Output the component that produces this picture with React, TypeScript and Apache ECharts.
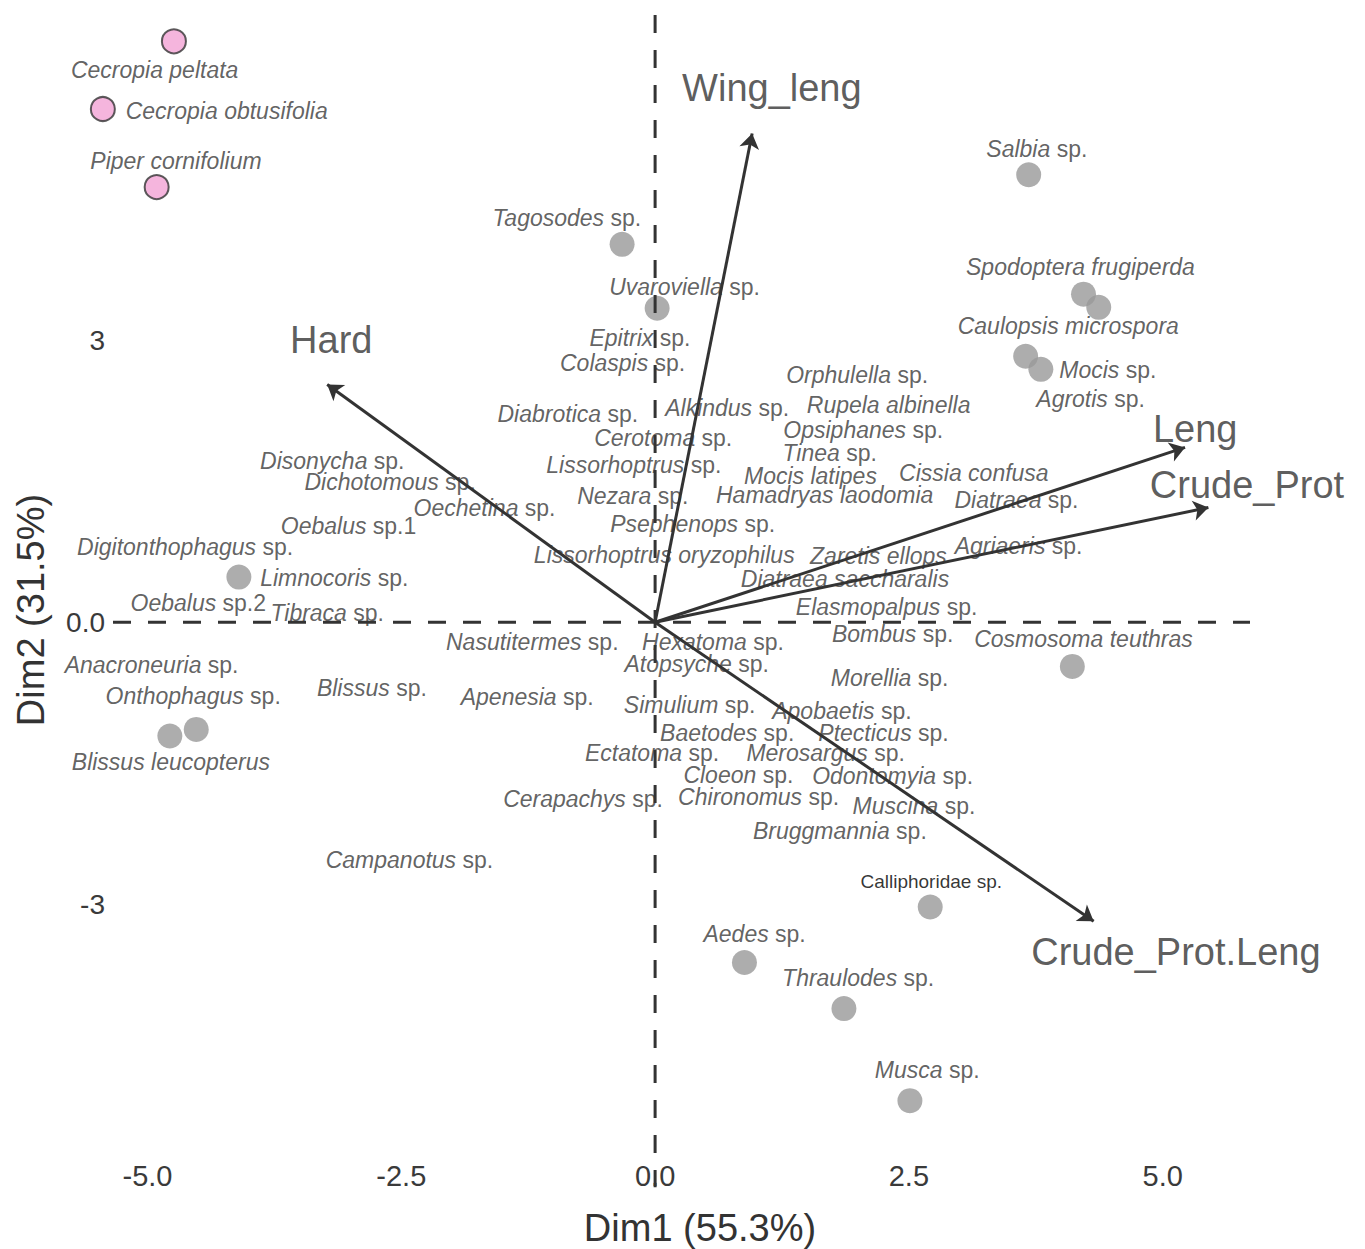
import React, { useEffect, useRef } from "react";
import * as echarts from "echarts";

// Species scores (individuals) – text positions on Dim1 / Dim2
const labelNames = [
  "Cecropia peltata", "Cecropia obtusifolia", "Piper cornifolium",
  "Tagosodes sp.", "Uvaroviella sp.", "Epitrix sp.", "Colaspis sp.", "Diabrotica sp.",
  "Alkindus sp.", "Cerotoma sp.", "Lissorhoptrus sp.", "Orphulella sp.", "Rupela albinella",
  "Opsiphanes sp.", "Tinea sp.", "Mocis latipes", "Cissia confusa", "Hamadryas laodomia",
  "Diatraea sp.", "Nezara sp.", "Psephenops sp.", "Lissorhoptrus oryzophilus", "Zaretis ellops",
  "Agriaeris sp.", "Diatraea saccharalis", "Elasmopalpus sp.", "Salbia sp.", "Spodoptera frugiperda",
  "Caulopsis microspora", "Mocis sp.", "Agrotis sp.", "Disonycha sp.", "Dichotomous sp.",
  "Oechetina sp.", "Oebalus sp.1", "Digitonthophagus sp.", "Limnocoris sp.", "Oebalus sp.2",
  "Tibraca sp.", "Anacroneuria sp.", "Onthophagus sp.", "Blissus sp.", "Blissus leucopterus",
  "Nasutitermes sp.", "Hexatoma sp.", "Atopsyche sp.", "Apenesia sp.", "Simulium sp.",
  "Baetodes sp.", "Ectatoma sp.", "Cloeon sp.", "Chironomus sp.", "Cerapachys sp.",
  "Bombus sp.", "Cosmosoma teuthras", "Morellia sp.", "Apobaetis sp.", "Ptecticus sp.",
  "Merosargus sp.", "Odontomyia sp.", "Muscina sp.", "Bruggmannia sp.", "Campanotus sp.",
  "Calliphoridae sp.", "Aedes sp.", "Thraulodes sp.", "Musca sp.",
];
const labelDim1 = [
  -4.93, -4.22, -4.72,
  -0.87, 0.29, -0.15, -0.32, -0.86,
  0.71, 0.08, -0.21, 1.99, 2.30,
  2.05, 1.72, 1.53, 3.14, 1.67,
  3.56, -0.22, 0.37, 0.09, 2.20,
  3.58, 1.87, 2.28, 3.76, 4.19,
  4.07, 4.46, 4.29, -3.18, -2.61,
  -1.68, -3.02, -4.63, -3.16, -4.50,
  -3.23, -4.96, -4.55, -2.79, -4.77,
  -1.21, 0.57, 0.41, -1.26, 0.34,
  0.71, -0.03, 0.82, 1.02, -0.71,
  2.34, 4.22, 2.31, 1.84, 2.25,
  1.68, 2.34, 2.55, 1.82, -2.42,
  2.72, 0.98, 2.00, 2.68,
];
const labelDim2 = [
  5.87, 5.44, 4.91,
  4.30, 3.57, 3.02, 2.76, 2.22,
  2.28, 1.96, 1.67, 2.63, 2.31,
  2.04, 1.80, 1.56, 1.59, 1.35,
  1.30, 1.34, 1.05, 0.72, 0.70,
  0.81, 0.46, 0.16, 5.03, 3.78,
  3.15, 2.68, 2.38, 1.72, 1.49,
  1.22, 1.02, 0.80, 0.47, 0.20,
  0.10, -0.45, -0.79, -0.70, -1.49,
  -0.21, -0.21, -0.44, -0.80, -0.88,
  -1.18, -1.39, -1.63, -1.86, -1.88,
  -0.13, -0.18, -0.59, -0.94, -1.18,
  -1.39, -1.64, -1.95, -2.22, -2.53,
  -2.76, -3.32, -3.79, -4.76,
];

// Insect taxa drawn as grey dots
const insectDim1 = [3.68, -0.325, 0.02, 4.22, 4.37, 3.65, 3.80, -4.10, 4.11, -4.52, -4.78, 2.71, 0.88, 1.86, 2.51];
const insectDim2 = [4.76, 4.02, 3.34, 3.49, 3.35, 2.83, 2.69, 0.48, -0.47, -1.14, -1.21, -3.03, -3.62, -4.11, -5.09];

// Host plants drawn as pink dots
const plantDim1 = [-4.74, -5.44, -4.91];
const plantDim2 = [6.18, 5.46, 4.63];

// Variable loadings (arrows) and their label positions
const varNames = ["Wing_leng", "Hard", "Leng", "Crude_Prot", "Crude_Prot.Leng"];
const varDim1 = [0.956, -3.23, 5.22, 5.45, 4.32];
const varDim2 = [5.20, 2.53, 1.86, 1.22, -3.18];
const varLabelDim1 = [1.15, -3.19, 5.32, 5.83, 5.13];
const varLabelDim2 = [5.68, 3.0, 2.06, 1.46, -3.51];

// Axis ticks
const xTicks = [-5, -2.5, 0, 2.5, 5];
const yTicks = [-3, 0, 3];

// Reference lines through the origin
const hLine = [[-5.34, 0], [5.86, 0]];
const vLine = [[0, 6.46], [0, -6.01]];

const plainNames = ["Calliphoridae sp."];

const FONT = "'Liberation Sans', Arial, Helvetica, sans-serif";
const INK = "#333333";

function richName(name: string): string {
  if (plainNames.includes(name)) return `{c|${name}}`;
  return name
    .split(" ")
    .map((w) => (/^sp\.\d*$/.test(w) ? `{n|${w}}` : `{i|${w}}`))
    .join(" ");
}

export default function App() {
  const ref = useRef<HTMLDivElement>(null);

  useEffect(() => {
    if (!ref.current) return;
    const chart = echarts.init(ref.current, null, { renderer: "svg" });

    const labelData = labelNames.map((n, k) => ({ name: n, value: [labelDim1[k], labelDim2[k]] }));
    const insectData = insectDim1.map((x, k) => [x, insectDim2[k]]);
    const plantData = plantDim1.map((x, k) => [x, plantDim2[k]]);
    const arrowData = varNames.map((n, k) => ({ name: n, coords: [[0, 0], [varDim1[k], varDim2[k]]] }));
    const varLabelData = varNames.map((n, k) => ({ name: n, value: [varLabelDim1[k], varLabelDim2[k]] }));

    chart.setOption({
      animation: false,
      backgroundColor: "#ffffff",
      textStyle: { fontFamily: FONT },
      grid: { left: 113, right: 115, top: 15, bottom: 98.5, containLabel: false },
      xAxis: {
        type: "value",
        min: -5.34,
        max: 5.86,
        axisLine: { show: false },
        axisTick: { show: false },
        splitLine: { show: false },
        axisLabel: {
          customValues: xTicks,
          formatter: (v: number) => v.toFixed(1),
          fontSize: 29,
          color: "#3a3a3a",
          margin: 11,
          fontFamily: FONT,
        },
      },
      yAxis: {
        type: "value",
        min: -5.62,
        max: 6.46,
        axisLine: { show: false },
        axisTick: { show: false },
        splitLine: { show: false },
        axisLabel: {
          customValues: yTicks,
          formatter: (v: number) => (v === 0 ? "0.0" : String(v)),
          fontSize: 28,
          color: "#3a3a3a",
          margin: 8,
          fontFamily: FONT,
        },
      },
      graphic: [
        {
          type: "text",
          x: 700,
          y: 1228,
          style: {
            text: "Dim1 (55.3%)",
            fontSize: 38,
            fontFamily: FONT,
            fill: INK,
            align: "center",
            verticalAlign: "middle",
          },
        },
        {
          type: "text",
          x: 31,
          y: 610,
          rotation: Math.PI / 2,
          style: {
            text: "Dim2 (31.5%)",
            fontSize: 38,
            fontFamily: FONT,
            fill: INK,
            align: "center",
            verticalAlign: "middle",
          },
        },
      ],
      series: [
        {
          type: "scatter",
          name: "insects",
          data: insectData,
          symbol: "circle",
          symbolSize: 25,
          itemStyle: { color: "#999999" },
          clip: false,
          silent: true,
          z: 1,
        },
        {
          type: "scatter",
          name: "plants",
          data: plantData,
          symbol: "circle",
          symbolSize: 24,
          itemStyle: { color: "#f2a2d4", borderColor: "#333333", borderWidth: 2 },
          clip: false,
          silent: true,
          z: 1,
        },
        {
          type: "scatter",
          name: "species",
          data: labelData,
          symbol: "circle",
          symbolSize: 1,
          itemStyle: { color: "rgba(0,0,0,0)" },
          clip: false,
          silent: true,
          z: 2,
          label: {
            show: true,
            position: "inside",
            formatter: (p: any) => richName(p.name),
            fontSize: 23,
            color: "#3a3a3a",
            fontFamily: FONT,
            rich: {
              i: { fontStyle: "italic", fontSize: 23, color: "#3a3a3a", fontFamily: FONT },
              n: { fontStyle: "normal", fontSize: 23, color: "#3a3a3a", fontFamily: FONT },
              c: { fontStyle: "normal", fontSize: 19, color: "#000000", fontFamily: FONT },
            },
          },
        },
        {
          type: "line",
          name: "h0",
          data: hLine,
          symbol: "none",
          clip: false,
          silent: true,
          lineStyle: { color: INK, width: 3, type: [18, 17] },
          z: 3,
        },
        {
          type: "line",
          name: "v0",
          data: vLine,
          symbol: "none",
          clip: false,
          silent: true,
          lineStyle: { color: INK, width: 3, type: [18, 17] },
          z: 3,
        },
        {
          type: "lines",
          name: "loadings",
          coordinateSystem: "cartesian2d",
          data: arrowData,
          symbol: ["none", "arrow"],
          symbolSize: [0, 15],
          silent: true,
          lineStyle: { color: INK, width: 3, opacity: 1, curveness: 0 },
          z: 4,
        },
        {
          type: "scatter",
          name: "variables",
          data: varLabelData,
          symbol: "circle",
          symbolSize: 1,
          itemStyle: { color: "rgba(0,0,0,0)" },
          clip: false,
          silent: true,
          z: 5,
          label: {
            show: true,
            position: "inside",
            formatter: (p: any) => p.name,
            fontSize: 38,
            color: INK,
            fontFamily: FONT,
          },
        },
      ],
    });

    return () => chart.dispose();
  }, []);

  return (
    <div
      ref={ref}
      style={{ position: "absolute", left: 0, top: 0, width: 1365, height: 1249, background: "#fff" }}
    />
  );
}
